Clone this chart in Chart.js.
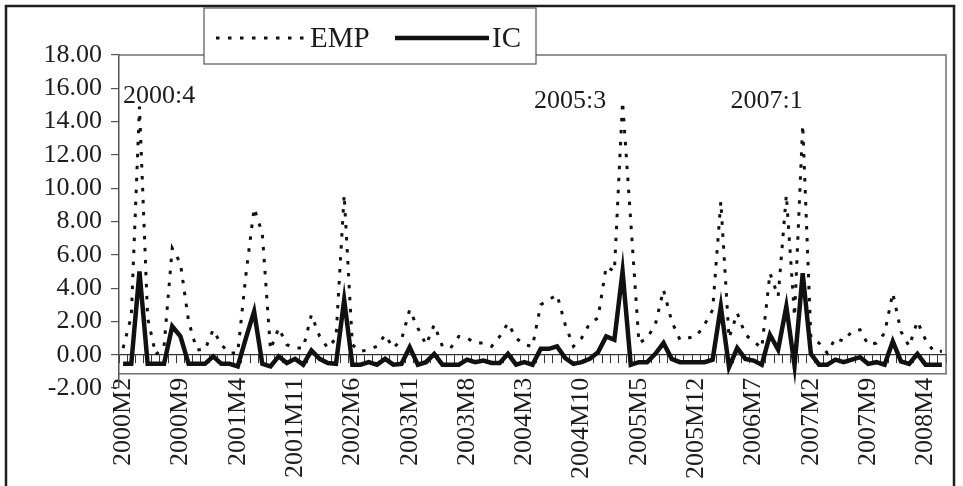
<!DOCTYPE html>
<html>
<head>
<meta charset="utf-8">
<script src="https://cdn.jsdelivr.net/npm/chart.js@4.4.0/dist/chart.umd.min.js"></script>
<style>
  html, body { margin: 0; padding: 0; background: #fff; }
  #wrap { width: 963px; height: 486px; position: relative; }
</style>
</head>
<body>
<div id="wrap"><canvas id="chart"></canvas></div>
<script>
/* ── Data ─────────────────────────────────────────────────────────── */
const months = [
  '2000M2','2000M3','2000M4','2000M5','2000M6','2000M7','2000M8','2000M9','2000M10','2000M11','2000M12',
  '2001M1','2001M2','2001M3','2001M4','2001M5','2001M6','2001M7','2001M8','2001M9','2001M10','2001M11','2001M12',
  '2002M1','2002M2','2002M3','2002M4','2002M5','2002M6','2002M7','2002M8','2002M9','2002M10','2002M11','2002M12',
  '2003M1','2003M2','2003M3','2003M4','2003M5','2003M6','2003M7','2003M8','2003M9','2003M10','2003M11','2003M12',
  '2004M1','2004M2','2004M3','2004M4','2004M5','2004M6','2004M7','2004M8','2004M9','2004M10','2004M11','2004M12',
  '2005M1','2005M2','2005M3','2005M4','2005M5','2005M6','2005M7','2005M8','2005M9','2005M10','2005M11','2005M12',
  '2006M1','2006M2','2006M3','2006M4','2006M5','2006M6','2006M7','2006M8','2006M9','2006M10','2006M11','2006M12',
  '2007M1','2007M2','2007M3','2007M4','2007M5','2007M6','2007M7','2007M8','2007M9','2007M10','2007M11','2007M12',
  '2008M1','2008M2','2008M3','2008M4','2008M5','2008M6'
];

const empValues = [
  0.4, 2.3, 14.9, 2.2, 0.0, 0.5, 6.4, 5.5, 2.0, 0.3,
  0.3, 1.5, 0.6, 0.1, 0.1, 4.8, 8.8, 7.3, 0.3, 1.6,
  0.6, 0.4, 0.4, 2.4, 1.1, 0.4, 1.0, 9.6, 0.6, 0.2,
  0.3, 0.5, 1.2, 0.4, 0.9, 2.7, 1.6, 0.6, 1.8, 0.5,
  0.4, 1.1, 1.0, 0.7, 0.7, 0.5, 1.1, 1.9, 1.0, 0.6,
  0.5, 3.0, 3.3, 3.6, 1.8, 0.5, 1.0, 1.9, 2.2, 5.3,
  5.0, 15.2, 8.0, 0.7, 1.0, 1.8, 3.9, 2.0, 0.9, 1.0,
  1.1, 1.8, 2.7, 9.2, 1.0, 2.5, 1.2, 0.8, 0.4, 4.9,
  3.5, 9.6, 2.3, 13.8, 1.0, 0.7, 0.1, 1.0, 0.8, 1.4,
  1.5, 0.6, 0.7, 1.3, 3.7, 1.4, 0.5, 2.0, 0.9, 0.2,
  0.2
];

const icValues = [
  -0.55, -0.55, 5.0, -0.55, -0.55, -0.55, 1.7, 1.1, -0.55, -0.55,
  -0.55, -0.1, -0.55, -0.55, -0.7, 1.0, 2.6, -0.55, -0.7, -0.1,
  -0.5, -0.25, -0.6, 0.25, -0.25, -0.5, -0.55, 3.3, -0.6, -0.6,
  -0.45, -0.6, -0.25, -0.6, -0.55, 0.45, -0.6, -0.45, 0.05, -0.6,
  -0.6, -0.6, -0.3, -0.45, -0.35, -0.5, -0.5, 0.05, -0.6, -0.45,
  -0.6, 0.35, 0.35, 0.5, -0.2, -0.55, -0.45, -0.25, 0.15, 1.1,
  0.9, 5.0, -0.6, -0.45, -0.45, 0.05, 0.7, -0.25, -0.45, -0.45,
  -0.45, -0.45, -0.3, 2.9, -0.75, 0.4, -0.25, -0.35, -0.6, 1.2,
  0.3, 2.9, -0.65, 4.9, 0.05, -0.6, -0.6, -0.3, -0.45, -0.3,
  -0.15, -0.55, -0.45, -0.6, 0.8, -0.4, -0.55, 0.05, -0.6, -0.6,
  -0.6
];

const seriesNames = ['EMP', 'IC'];
const yTicks = { min: -2, max: 18, step: 2 };

// peak notes: text, category it hangs from, value level, alignment
const noteText  = ['2000:4', '2005:3', '2007:1'];
const noteAt    = ['2000M2', '2005M1', '2007M1'];
const noteLevel = [15.5, 15.2, 15.2];
const noteAlign = ['left', 'right', 'right'];

/* ── Styles ───────────────────────────────────────────────────────── */
const serif    = '"Liberation Serif", "Times New Roman", serif';
const ink      = '#1c1c1c';
const boxFloor = -1.15;   // where the plot frame closes, in y units

// ── Frame, legend and notes ─────────────────────────────────────────
const decor = {
  id: 'decor',
  beforeDatasetsDraw(chart) {
    const {ctx, chartArea: a, scales} = chart;
    const bottom = scales.y.getPixelForValue(boxFloor);
    ctx.save();
    ctx.strokeStyle = '#707070';
    ctx.lineWidth = 1.5;
    ctx.beginPath();
    ctx.moveTo(a.left, a.top);
    ctx.lineTo(a.right, a.top);
    ctx.lineTo(a.right, bottom);
    ctx.stroke();
    ctx.restore();
  },
  afterDraw(chart) {
    const {ctx, scales} = chart;
    const ds = chart.data.datasets;
    ctx.save();

    // outer border
    ctx.strokeStyle = '#1e1e1e';
    ctx.lineWidth = 2.5;
    ctx.strokeRect(6, 6, 948, 520);

    // legend
    ctx.fillStyle = '#fff';
    ctx.fillRect(204, 8, 332, 56);
    ctx.strokeStyle = '#555';
    ctx.lineWidth = 1.2;
    ctx.strokeRect(204, 8, 332, 56);

    const ly = 38;
    ctx.strokeStyle = ds[0].borderColor;
    ctx.lineWidth = ds[0].borderWidth;
    ctx.setLineDash(ds[0].borderDash);
    ctx.beginPath(); ctx.moveTo(216, ly); ctx.lineTo(307, ly); ctx.stroke();
    ctx.setLineDash([]);
    ctx.strokeStyle = ds[1].borderColor;
    ctx.lineWidth = ds[1].borderWidth;
    ctx.beginPath(); ctx.moveTo(395, ly); ctx.lineTo(489, ly); ctx.stroke();

    ctx.fillStyle = ink;
    ctx.font = '29px ' + serif;
    ctx.textBaseline = 'middle';
    ctx.textAlign = 'left';
    ctx.fillText(ds[0].label, 310, ly + 1);
    ctx.fillText(ds[1].label, 492, ly + 1);

    // peak notes
    ctx.font = '26px ' + serif;
    for (let i = 0; i < noteText.length; i++) {
      ctx.textAlign = noteAlign[i];
      ctx.fillText(noteText[i],
        scales.x.getPixelForValue(months.indexOf(noteAt[i])),
        scales.y.getPixelForValue(noteLevel[i]));
    }
    ctx.restore();
  }
};

new Chart(document.getElementById('chart'), {
  type: 'line',
  data: {
    labels: months,
    datasets: [
      {
        label: seriesNames[0],
        data: empValues,
        borderColor: '#111',
        borderWidth: 3,
        borderDash: [3.5, 8.5],
        borderCapStyle: 'butt',
        pointRadius: 0,
        tension: 0,
        order: 1
      },
      {
        label: seriesNames[1],
        data: icValues,
        borderColor: '#111',
        borderWidth: 4.5,
        borderJoinStyle: 'miter',
        pointRadius: 0,
        tension: 0,
        order: 0
      }
    ]
  },
  options: {
    responsive: true,
    maintainAspectRatio: false,
    animation: false,
    layout: { padding: { left: 0, top: 55, right: 17, bottom: 98 } },
    plugins: {
      legend: { display: false },
      tooltip: { enabled: false }
    },
    scales: {
      x: {
        type: 'category',
        position: { y: boxFloor },
        offset: true,
        grid: { display: true, drawOnChartArea: false, drawTicks: false },
        border: { display: true, color: '#707070', width: 1.5 },
        ticks: {
          autoSkip: false,
          maxRotation: 90,
          minRotation: 90,
          padding: 4,
          color: ink,
          font: { family: serif, size: 26 },
          callback: function(v, i) { return i % 7 === 0 ? this.getLabelForValue(v) : null; }
        }
      },
      x0: {
        type: 'category',
        axis: 'x',
        labels: months,
        position: { y: 0 },
        offset: true,
        grid: { display: true, drawOnChartArea: false, drawTicks: true, tickLength: 8,
                offset: true, color: '#333', lineWidth: 1 },
        border: { display: true, color: '#333', width: 1.2 },
        ticks: { display: false }
      },
      y: {
        min: yTicks.min,
        max: yTicks.max,
        grid: { drawOnChartArea: false, drawTicks: true, tickLength: 8, color: '#555', lineWidth: 1.2 },
        border: { color: '#555', width: 1.5 },
        ticks: {
          stepSize: yTicks.step,
          autoSkip: false,
          padding: 9,
          color: ink,
          font: { family: serif, size: 26 },
          callback: function(v) { return v.toFixed(2); }
        },
        afterFit: function(s) { s.width = 119; }
      }
    }
  },
  plugins: [decor]
});
</script>
</body>
</html>
